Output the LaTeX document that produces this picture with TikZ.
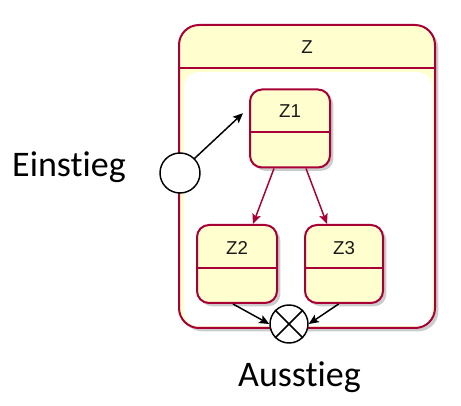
\documentclass[tikz,border=0pt]{standalone}
\usepackage{fontspec}
\setmainfont{Liberation Sans}
\newfontfamily\calib[Ligatures={NoCommon}]{Carlito}
\usetikzlibrary{arrows.meta,shadows,calc}
\definecolor{stfill}{HTML}{FEFECE}
\definecolor{stline}{HTML}{A80036}
\tikzset{
  shad/.style={drop shadow={shadow xshift=2.5pt,shadow yshift=-2.5pt,fill=black,opacity=0.2}},
  stbox/.style={draw=stline, fill=stfill, line width=1.5pt, rounded corners=9pt,
    minimum width=60pt, minimum height=58.5pt, inner sep=0pt, shad},
  outerbox/.style={draw=stline, fill=stfill, line width=1.5pt, rounded corners=15pt,
    minimum width=192pt, minimum height=227.25pt, inner sep=0pt, shad},
  sep/.style={draw=stline, line width=1.5pt},
  lbl/.style={font=\fontsize{14}{16}\selectfont, text=black!90, inner sep=0pt},
  big/.style={font=\calib\fontsize{27}{32}\selectfont, inner sep=0pt, anchor=base},
  pseudo/.style={circle, draw=black, fill=white, line width=1.1pt, inner sep=0pt},
  blk/.style={draw=black, line width=1.1pt, -{Stealth[length=7.5pt,width=6.5pt,inset=1.5pt]}},
  red/.style={draw=stline, line width=1.1pt, -{Stealth[length=7.5pt,width=6.5pt,inset=1.5pt]}},
}
\begin{document}
\begin{tikzpicture}[x=0.75pt,y=-0.75pt]
\useasboundingbox (0,0) rectangle (461,406);
% composite state Z
\node[outerbox] (Z) at (307,176.5) {};
\fill[white, rounded corners=11pt] ($(Z.north west)+(6,48)$) rectangle ($(Z.south east)+(-4,-3)$);
\draw[sep] ($(Z.north west)+(0,44)$) -- ($(Z.north east)+(0,44)$);
\node[lbl] (Zt) at ($(Z.north)+(0,23)$) {Z};
% substates
\node[stbox] (Z1) at (290,128.5) {};
\draw[sep] ($(Z1.north west)+(0,44)$) -- ($(Z1.north east)+(0,44)$);
\node[lbl] (Z1t) at ($(Z1.north)+(0,22.5)$) {Z1};
\node[stbox] (Z2) at (237,264) {};
\draw[sep] ($(Z2.north west)+(0,44.5)$) -- ($(Z2.north east)+(0,44.5)$);
\node[lbl] (Z2t) at ($(Z2.north)+(0,24)$) {Z2};
\node[stbox, minimum width=58.5pt] (Z3) at (344,264) {};
\draw[sep] ($(Z3.north west)+(0,44.5)$) -- ($(Z3.north east)+(0,44.5)$);
\node[lbl] (Z3t) at ($(Z3.north)+(0,24)$) {Z3};
% pseudo states
\node[pseudo, minimum size=30pt] (ein) at (180,173) {};
\node[pseudo, minimum size=28.5pt] (ex) at (289,324) {};
\draw[line width=1.1pt] (ex.45) -- (ex.225) (ex.135) -- (ex.315);
% transitions
\draw[blk] (ein.45) -- ([xshift=-4.5pt,yshift=11.5pt]Z1.west);
\draw[red] ([xshift=-12pt]Z1.south) -- ([xshift=12pt]Z2.north);
\draw[red] ([xshift=12pt]Z1.south) -- ([xshift=-12.75pt]Z3.north);
\draw[blk] ([xshift=-3pt]Z2.south) -- (ex.west);
\draw[blk] ([xshift=-4pt]Z3.south) -- (ex.east);
% labels
\node[big] (einl) at (69,177) {Einst\kern0pt ieg};
\node[big] (ausl) at (299.5,387) {Ausst\kern0pt ieg};
\end{tikzpicture}
\end{document}
